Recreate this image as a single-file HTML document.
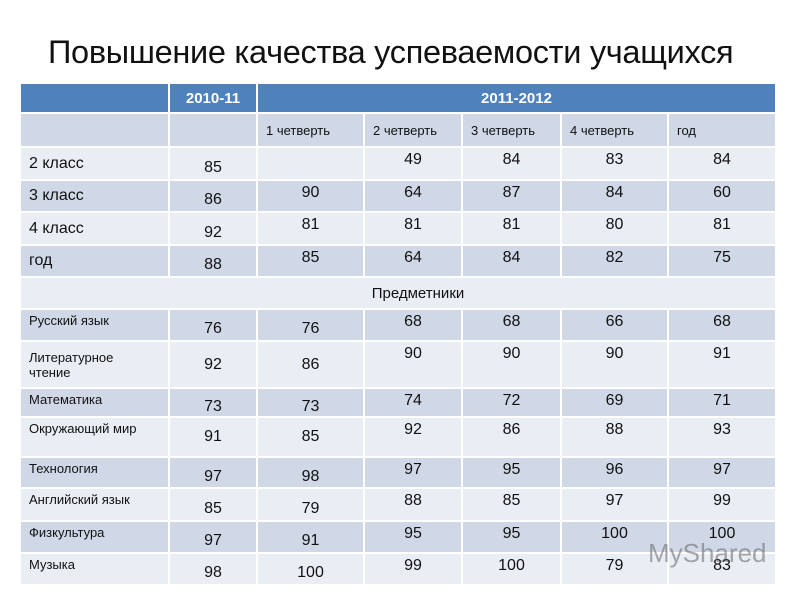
<!DOCTYPE html>
<html><head><meta charset="utf-8"><style>
body{margin:0;width:800px;height:600px;background:#fff;overflow:hidden;font-family:"Liberation Sans","DejaVu Sans",sans-serif;position:relative}
h1{position:absolute;left:48px;top:34px;margin:0;font-weight:normal;font-size:32.5px;color:#111;letter-spacing:-0.3px}
table{position:absolute;left:19px;top:82px;border-collapse:collapse;table-layout:fixed;width:756px}
td{border:2px solid #fff;padding:0;color:#111;font-size:16px;text-align:center;vertical-align:middle}
tr.h td{background:#4f81bd;color:#fff;font-weight:bold;font-size:15px}
tr.d td{background:#d0d8e8}
tr.l td{background:#e9edf4}
td.lab{text-align:left;padding-left:8px}
td.sm{font-size:13px}
td.q{font-size:13px;text-align:left;padding-left:8px}
td.v{vertical-align:top;padding-top:3px}
td.o{padding-top:8px}
</style></head><body>
<h1>Повышение качества успеваемости учащихся</h1>
<table>
<colgroup><col style="width:149px"><col style="width:88px"><col style="width:107px"><col style="width:98px"><col style="width:99px"><col style="width:107px"><col style="width:108px"></colgroup>
<tr class="h" style="height:30px"><td></td><td>2010-11</td><td colspan="5">2011-2012</td></tr>
<tr class="d" style="height:34px"><td></td><td></td><td class="q">1 четверть</td><td class="q">2 четверть</td><td class="q">3 четверть</td><td class="q">4 четверть</td><td class="q">год</td></tr>
<tr class="l" style="height:33px"><td class="lab">2 класс</td><td class="o">85</td><td class="v"></td><td class="v">49</td><td class="v">84</td><td class="v">83</td><td class="v">84</td></tr>
<tr class="d" style="height:32px"><td class="lab">3 класс</td><td class="o">86</td><td class="v">90</td><td class="v">64</td><td class="v">87</td><td class="v">84</td><td class="v">60</td></tr>
<tr class="l" style="height:33px"><td class="lab">4 класс</td><td class="o">92</td><td class="v">81</td><td class="v">81</td><td class="v">81</td><td class="v">80</td><td class="v">81</td></tr>
<tr class="d" style="height:32px"><td class="lab">год</td><td class="o">88</td><td class="v">85</td><td class="v">64</td><td class="v">84</td><td class="v">82</td><td class="v">75</td></tr>
<tr class="l" style="height:32px"><td colspan="7" style="font-size:15px;padding-left:40px">Предметники</td></tr>
<tr class="d" style="height:32px"><td class="lab sm v">Русский язык</td><td class="o">76</td><td class="o">76</td><td class="v">68</td><td class="v">68</td><td class="v">66</td><td class="v">68</td></tr>
<tr class="l" style="height:47px"><td class="lab sm">Литературное<br>чтение</td><td>92</td><td>86</td><td class="v">90</td><td class="v">90</td><td class="v">90</td><td class="v">91</td></tr>
<tr class="d" style="height:29px"><td class="lab sm v">Математика</td><td class="o">73</td><td class="o">73</td><td class="v">74</td><td class="v">72</td><td class="v">69</td><td class="v">71</td></tr>
<tr class="l" style="height:40px"><td class="lab sm v">Окружающий мир</td><td>91</td><td>85</td><td class="v">92</td><td class="v">86</td><td class="v">88</td><td class="v">93</td></tr>
<tr class="d" style="height:31px"><td class="lab sm v">Технология</td><td class="o">97</td><td class="o">98</td><td class="v">97</td><td class="v">95</td><td class="v">96</td><td class="v">97</td></tr>
<tr class="l" style="height:33px"><td class="lab sm v">Английский язык</td><td class="o">85</td><td class="o">79</td><td class="v">88</td><td class="v">85</td><td class="v">97</td><td class="v">99</td></tr>
<tr class="d" style="height:32px"><td class="lab sm v">Физкультура</td><td class="o">97</td><td class="o">91</td><td class="v">95</td><td class="v">95</td><td class="v">100</td><td class="v">100</td></tr>
<tr class="l" style="height:32px"><td class="lab sm v">Музыка</td><td class="o">98</td><td class="o">100</td><td class="v">99</td><td class="v">100</td><td class="v">79</td><td class="v">83</td></tr>
</table>
<div style="position:absolute;left:648px;top:538px;font-size:26px;color:rgba(90,90,90,0.5)">MyShared</div>
</body></html>
